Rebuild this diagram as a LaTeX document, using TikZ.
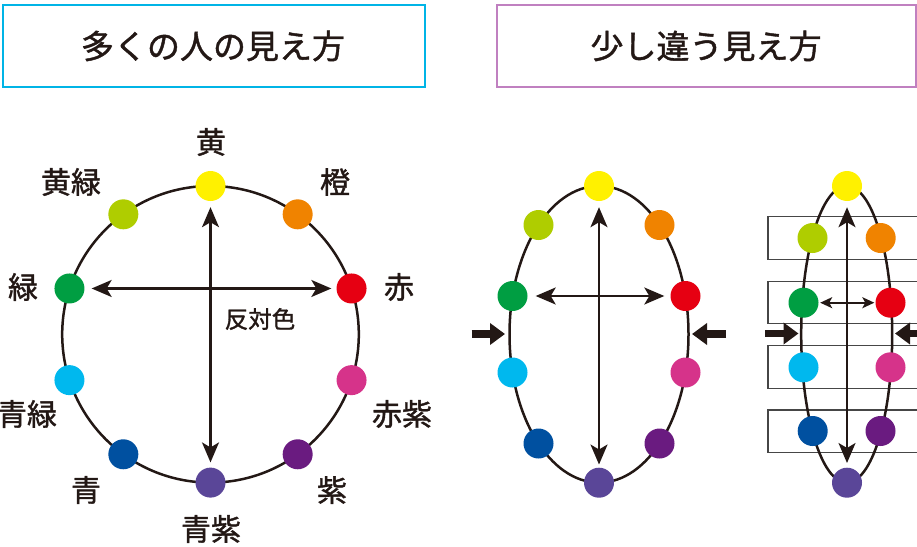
\documentclass[tikz,border=0pt]{standalone}
\usepackage{fontspec}
\setmainfont{Noto Sans CJK JP}
\newfontfamily\jpb{Noto Sans CJK JP}[FakeBold=1.3]
\usetikzlibrary{arrows.meta}
\definecolor{ink}{HTML}{231815}
\definecolor{cY}{HTML}{FFF100}
\definecolor{cO}{HTML}{F08300}
\definecolor{cR}{HTML}{E60012}
\definecolor{cM}{HTML}{D6338A}
\definecolor{cP}{HTML}{6A1B80}
\definecolor{cV}{HTML}{5A4698}
\definecolor{cB}{HTML}{0050A0}
\definecolor{cC}{HTML}{00B8EE}
\definecolor{cG}{HTML}{009E42}
\definecolor{cL}{HTML}{AFCD00}
\definecolor{boxL}{HTML}{00B4E6}
\definecolor{boxR}{HTML}{C080C0}
\begin{document}
\begin{tikzpicture}[x=1pt,y=-1pt,
  dot/.style={circle,minimum size=30pt,inner sep=0pt,fill=#1},
  lbl/.style={font=\jpb\fontsize{30}{30}\selectfont,text=ink,inner sep=0pt},
  ttl/.style={font=\jpb\fontsize{33}{33}\selectfont,text=ink,inner sep=0pt},
  ring/.style={draw=ink,line width=2.5pt},
  dbl/.style={draw=ink,line width=2.2pt,{Stealth[length=20pt,width=17pt,inset=5pt]}-{Stealth[length=20pt,width=17pt,inset=5pt]}},
  sdbl/.style={draw=ink,line width=1.8pt,{Stealth[length=12pt,width=11pt,inset=3pt]}-{Stealth[length=12pt,width=11pt,inset=3pt]}},
  side/.style={draw=ink,line width=7.5pt,-{Triangle[length=15pt,width=21pt]}},
  band/.style={draw={rgb,255:red,70;green,70;blue,70},line width=1.3pt,fill=white}
]
\useasboundingbox (0,0) rectangle (917,546);
% title boxes
\draw[boxL,line width=2.6pt] (3,5) rectangle (425,87);
\node[ttl] (t1) at (213,46) {多くの人の見え方};
\draw[boxR,line width=2.6pt] (497,5) rectangle (916,87);
\node[ttl] (t2) at (706,46) {少し違う見え方};

% ---------- left circle ----------
\coordinate (Lc) at (210.5,334.3);
\draw[ring] (Lc) circle[radius=148.3];
\path (Lc) ++(-90:148.3)  node[dot=cY] (Ly) {};
\path (Lc) ++(-54:148.3)  node[dot=cO] (Lo) {};
\path (Lc) ++(-18:148.3)  node[dot=cR] (Lr) {};
\path (Lc) ++(18:148.3) node[dot=cM] (Lm) {};
\path (Lc) ++(54:148.3) node[dot=cP] (Lp) {};
\path (Lc) ++(90:148.3) node[dot=cV] (Lv) {};
\path (Lc) ++(126:148.3) node[dot=cB] (Lb) {};
\path (Lc) ++(162:148.3) node[dot=cC] (Lcy) {};
\path (Lc) ++(198:148.3) node[dot=cG] (Lg) {};
\path (Lc) ++(234:148.3) node[dot=cL] (Ll) {};
\draw[dbl,shorten <=6pt,shorten >=5pt] (Ly) -- (Lv);
\draw[dbl,shorten <=7pt,shorten >=5pt] (Lg) -- (Lr);
\node[font=\jpb\fontsize{23.5}{23.5}\selectfont,text=ink,inner sep=0pt] (hantai) at (260,319) {反対色};
\node[lbl] (nY) at (211,142) {黄};
\node[lbl] (nL) at (71,182) {黄緑};
\node[lbl] (nO) at (335,182) {橙};
\node[lbl] (nG) at (23,287) {緑};
\node[lbl] (nR) at (399,287) {赤};
\node[lbl] (nC) at (27,414) {青緑};
\node[lbl] (nM) at (402,414) {赤紫};
\node[lbl] (nB) at (86,490) {青};
\node[lbl] (nP) at (332,490) {紫};
\node[lbl] (nV) at (211,529) {青紫};

% ---------- middle ellipse ----------
\draw[ring] (599,334.3) ellipse[x radius=89.5,y radius=148.3];
\node[dot=cY] (My) at (599,186) {};
\node[dot=cO] (Mo) at (659.5,225) {};
\node[dot=cR] (Mr) at (685.5,296) {};
\node[dot=cM] (Mm) at (685.5,372.5) {};
\node[dot=cP] (Mp) at (659.5,443.5) {};
\node[dot=cV] (Mv) at (599,482.7) {};
\node[dot=cB] (Mb) at (538.5,443.5) {};
\node[dot=cC] (Mcy) at (512.5,372.5) {};
\node[dot=cG] (Mg) at (512.5,296) {};
\node[dot=cL] (Ml) at (538.5,225) {};
\draw[dbl,shorten <=6pt,shorten >=3pt] (My) -- (Mv);
\draw[dbl,shorten <=8pt,shorten >=6pt] (Mg) -- (Mr);
\coordinate (MaL0) at (471.5,334);
\coordinate (MaL1) at (505,334);
\coordinate (MaR0) at (726,334);
\coordinate (MaR1) at (692,334);
\draw[side] (MaL0) -- (MaL1);
\draw[side] (MaR0) -- (MaR1);

% ---------- right ellipse ----------
\draw[band] (768,216.7) rectangle (940,259.3);
\draw[band] (768,281.3) rectangle (940,323.3);
\draw[band] (768,345.7) rectangle (940,388.3);
\draw[band] (768,410) rectangle (940,452.7);
\draw[ring] (846.7,334.3) ellipse[x radius=45.5,y radius=148.3];
\node[dot=cY] (Ry) at (847,186) {};
\node[dot=cO] (Ro) at (880.7,238) {};
\node[dot=cR] (Rr) at (890.5,302.7) {};
\node[dot=cM] (Rm) at (890.5,367.3) {};
\node[dot=cP] (Rp) at (880.5,431) {};
\node[dot=cV] (Rv) at (847,482.7) {};
\node[dot=cB] (Rb) at (812.7,431) {};
\node[dot=cC] (Rcy) at (803.5,367.3) {};
\node[dot=cG] (Rg) at (803.5,302.7) {};
\node[dot=cL] (Rl) at (812.5,238) {};
\draw[dbl,shorten <=6pt,shorten >=4.5pt] (Ry) -- (Rv);
\draw[sdbl,shorten <=1.5pt,shorten >=1pt] (Rg) -- (Rr);
\coordinate (RaL0) at (765,333.5);
\coordinate (RaL1) at (798.5,333.5);
\coordinate (RaR0) at (929,333.5);
\coordinate (RaR1) at (895,333.5);
\draw[side] (RaL0) -- (RaL1);
\draw[side] (RaR0) -- (RaR1);
\end{tikzpicture}
\end{document}
